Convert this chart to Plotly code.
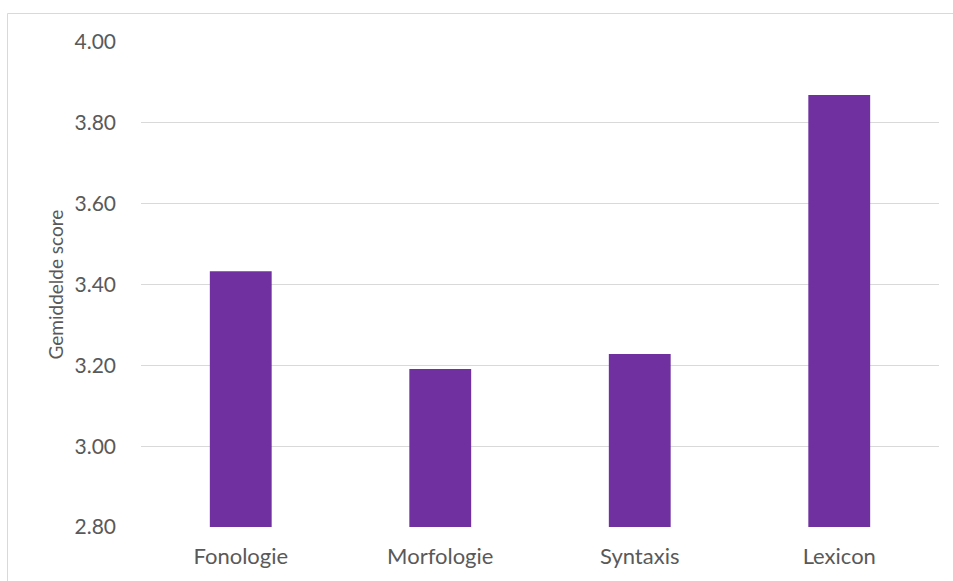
import plotly.graph_objects as go

# Average score per language domain
categories = ["Fonologie", "Morfologie", "Syntaxis", "Lexicon"]
scores = [3.433, 3.191, 3.228, 3.869]
y_ticks = [2.80, 3.00, 3.20, 3.40, 3.60, 3.80, 4.00]
y_title = "Gemiddelde score"

W, H = 953, 581
ML, MR, MT, MB = 141, 14, 42, 54
pw = W - ML - MR
ph = H - MT - MB

text_color = "#595959"
grid_color = "#d9d9d9"
font_family = "Lato, 'Open Sans', sans-serif"

fig = go.Figure(
    go.Bar(
        x=categories,
        y=scores,
        marker=dict(color="#7030A0", line=dict(width=0)),
        hoverinfo="x+y",
    )
)

fig.update_layout(
    width=W,
    height=H,
    margin=dict(l=ML, r=MR, t=MT, b=MB),
    paper_bgcolor="white",
    plot_bgcolor="white",
    bargap=0.69,
    showlegend=False,
    font=dict(family=font_family, color=text_color),
)

fig.update_xaxes(
    showgrid=False,
    showline=False,
    ticks="",
    tickfont=dict(size=22, color=text_color, family=font_family),
    ticklabelstandoff=14,
)

fig.update_yaxes(
    range=[2.8, 4.0],
    tickvals=y_ticks,
    ticktext=[f"{v:.2f}" for v in y_ticks],
    showgrid=True,
    gridcolor=grid_color,
    gridwidth=1.3,
    zeroline=False,
    showline=False,
    ticks="",
    tickfont=dict(size=21, color=text_color, family=font_family),
    ticklabelstandoff=24,
)

# Rotated axis title
fig.add_annotation(
    text=y_title,
    textangle=-90,
    xref="paper",
    yref="paper",
    x=(55 - ML) / pw,
    y=0.5,
    xanchor="center",
    yanchor="middle",
    showarrow=False,
    font=dict(size=19, color=text_color, family=font_family),
)

# Chart frame
fig.add_shape(
    type="rect",
    xref="paper",
    yref="paper",
    x0=(7.5 - ML) / pw,
    x1=(W + 5 - ML) / pw,
    y0=-(H + 5 - MT - ph) / ph,
    y1=(MT - 13.5) / ph + 1,
    line=dict(color=grid_color, width=1),
    fillcolor="rgba(0,0,0,0)",
    layer="below",
)

fig.write_html("out.html")
